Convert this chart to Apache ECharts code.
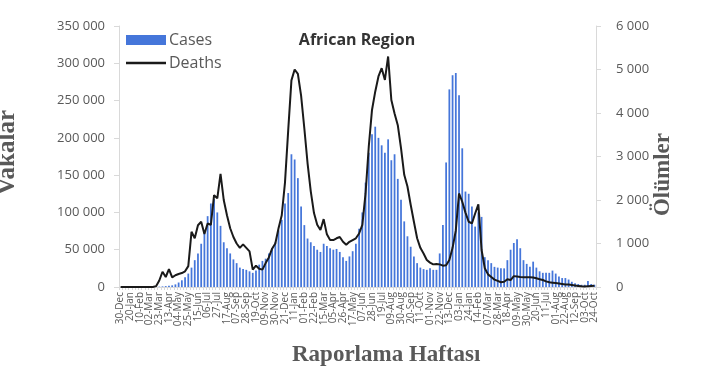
<!DOCTYPE html>
<html>
<head>
<meta charset="utf-8">
<script src="https://cdn.jsdelivr.net/npm/echarts@6/dist/echarts.min.js"></script>
<style>html,body{margin:0;padding:0;background:#fff}#c{width:703px;height:372px}</style>
</head>
<body>
<div id="c"></div>
<script>
// Weekly reporting periods: 30-Dec-2019 ... 24-Oct-2022 (148 weeks)
const startWeek = Date.UTC(2019, 11, 30);
const monthNames = ['Jan','Feb','Mar','Apr','May','Jun','Jul','Aug','Sep','Oct','Nov','Dec'];
const weekCount = 148;
const labelEvery = 3;
const categories = [];
for (let i = 0; i < weekCount; i++) {
  const d = new Date(startWeek + i * 7 * 86400000);
  categories.push(String(d.getUTCDate()).padStart(2, '0') + '-' + monthNames[d.getUTCMonth()]);
}

const cases = [
  0,0,0,0,0,0,0,0,0,0,
  0,200,500,800,1200,1600,2200,3500,6000,9000,
  13000,18000,26000,36000,45000,58000,72000,95000,112000,118000,
  100000,82000,60000,52000,45000,37000,32000,26000,24000,23000,
  21000,19000,22000,30000,35000,38000,45000,52000,60000,76000,
  90000,112000,126000,178000,171000,146000,108000,83000,65000,60000,
  55000,50000,47000,58000,55000,52000,50000,51000,47000,40000,
  35000,41000,48000,58000,78000,100000,140000,180000,205000,215000,
  200000,190000,180000,198000,170000,178000,145000,117000,88000,68000,
  54000,41000,32000,26000,24000,23000,25000,23000,23000,45000,
  83000,167000,265000,284000,287000,257000,186000,128000,125000,108000,
  81000,100000,94000,40000,36000,32000,27000,26000,25000,25000,
  36000,50000,59000,64000,52000,36000,31000,27000,34000,26000,
  21000,19000,19000,19000,22000,18000,14000,12000,12000,10000,
  7000,5000,4000,3000,3000,8000,4000,3000
];

const deaths = [
  0,0,0,0,0,0,0,0,0,0,
  0,20,150,350,230,410,220,270,300,320,
  360,480,1270,1120,1420,1500,1220,1460,1430,2110,
  2040,2600,2000,1650,1350,1150,1000,900,980,900,
  820,400,490,420,400,550,680,880,1000,1350,
  1650,2400,3600,4750,5000,4900,4400,3650,2850,2200,
  1700,1430,1310,1560,1210,1080,1080,1120,1150,1040,
  970,1040,1080,1120,1230,1430,2150,3230,4070,4490,
  4840,5030,4760,5300,4300,3990,3720,3190,2580,2310,
  1890,1500,1120,900,770,620,560,520,530,520,
  490,500,620,900,1300,2150,1960,1710,1500,1460,
  1690,1900,850,430,290,230,170,140,110,120,
  180,160,250,240,230,225,225,225,220,200,
  180,160,130,110,100,90,80,70,60,55,
  45,35,25,15,10,20,25,30
];

const leftTicks = [0, 50000, 100000, 150000, 200000, 250000, 300000, 350000];
const rightTicks = [0, 1000, 2000, 3000, 4000, 5000, 6000];

function spaced(v) {
  return String(v).replace(/\B(?=(\d{3})+(?!\d))/g, ' ');
}

const chart = echarts.init(document.getElementById('c'), null, {renderer: 'canvas'});
const grey = '#595959';
chart.setOption({
  animation: false,
  backgroundColor: '#ffffff',
  title: {
    text: 'African Region',
    left: 352, top: 27, textAlign: 'center',
    textStyle: {fontFamily: 'Open Sans', fontWeight: 'bold', fontSize: 16, color: '#333333'}
  },
  legend: {
    orient: 'vertical', left: 121, top: 27,
    itemWidth: 40, itemHeight: 10, itemGap: 7,
    textStyle: {fontFamily: 'Open Sans', fontSize: 16, color: grey, padding: [0, 0, 0, -2]},
    data: [
      {name: 'Cases', icon: 'rect'},
      {name: 'Deaths', icon: 'path://M0,0 L40,0 L40,2.4 L0,2.4 Z'}
    ]
  },
  grid: {left: 119, right: 107, top: 26, bottom: 85, containLabel: false},
  xAxis: {
    type: 'category', data: categories, boundaryGap: true,
    axisLine: {lineStyle: {color: '#d9d9d9', width: 1}},
    axisTick: {show: true, interval: 0, length: 3, lineStyle: {color: '#d9d9d9'}},
    axisLabel: {
      interval: 0, rotate: 90, fontSize: 10, fontFamily: 'Open Sans', color: grey, margin: 5,
      showMinLabel: true, showMaxLabel: true,
      formatter: function (v, i) { return i % labelEvery === 0 ? v : ''; }
    }
  },
  yAxis: [{
    type: 'value', min: leftTicks[0], max: leftTicks[leftTicks.length - 1], interval: 50000,
    splitLine: {show: false},
    axisLine: {show: true, lineStyle: {color: '#d9d9d9'}},
    axisTick: {show: true, length: 5, lineStyle: {color: '#d9d9d9'}},
    axisLabel: {fontSize: 13, fontFamily: 'Open Sans', color: grey, margin: 14, formatter: spaced}
  }, {
    type: 'value', min: rightTicks[0], max: rightTicks[rightTicks.length - 1], interval: 1000,
    splitLine: {show: false},
    axisLine: {show: true, lineStyle: {color: '#d9d9d9'}},
    axisTick: {show: true, length: 5, lineStyle: {color: '#d9d9d9'}},
    axisLabel: {fontSize: 13, fontFamily: 'Open Sans', color: grey, margin: 20, formatter: spaced}
  }],
  series: [{
    name: 'Cases', type: 'bar', data: cases, yAxisIndex: 0,
    barWidth: '55%', itemStyle: {color: '#4576da'}
  }, {
    name: 'Deaths', type: 'line', data: deaths, yAxisIndex: 1,
    symbol: 'none', lineStyle: {color: '#1a1a1a', width: 2}, itemStyle: {color: '#1a1a1a'}, z: 5
  }],
  graphic: [{
    type: 'text', left: -5, top: 110, rotation: Math.PI / 2,
    style: {text: 'Vakalar', font: 'bold 25px "Liberation Serif"', fill: grey}
  }, {
    type: 'text', left: 652, top: 133, rotation: Math.PI / 2,
    style: {text: 'Ölümler', font: 'bold 23px "Liberation Serif"', fill: grey}
  }, {
    type: 'text', left: 292, top: 344,
    style: {text: 'Raporlama Haftası', font: 'bold 23px "Liberation Serif"', fill: grey}
  }]
});
</script>
</body>
</html>
